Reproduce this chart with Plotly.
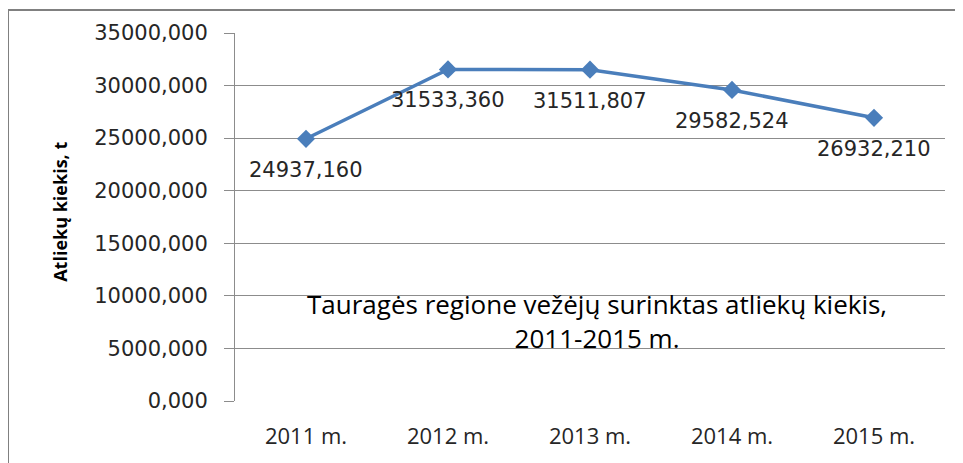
import plotly.graph_objects as go

years = ["2011 m.", "2012 m.", "2013 m.", "2014 m.", "2015 m."]
amounts = [24937.160, 31533.360, 31511.807, 29582.524, 26932.210]
amount_labels = ["24937,160", "31533,360", "31511,807", "29582,524", "26932,210"]
y_ticks = [0, 5000, 10000, 15000, 20000, 25000, 30000, 35000]
y_tick_labels = ["0,000", "5000,000", "10000,000", "15000,000", "20000,000",
                 "25000,000", "30000,000", "35000,000"]
chart_title = "Tauragės regione vežėjų surinktas atliekų kiekis,<br>2011-2015 m."
y_title = "Atliekų kiekis, t"

LINE = "#4A7EBB"
GRID = "#8C8C8C"
TXT = "#262626"

fig = go.Figure()
fig.add_trace(go.Scatter(
    x=years, y=amounts, mode="lines+markers",
    line=dict(color=LINE, width=3.5),
    marker=dict(symbol="diamond", size=14, color=LINE),
    hoverinfo="skip", showlegend=False, cliponaxis=False,
))

for xv, yv, lab in zip(years, amounts, amount_labels):
    fig.add_annotation(x=xv, y=yv, text=lab, showarrow=False, yshift=-31,
                       xanchor="center", yanchor="middle",
                       font=dict(family="DejaVu Sans", size=21, color=TXT))

fig.add_annotation(xref="paper", yref="paper", x=0.51, y=0.217, text=chart_title,
                   showarrow=False, align="center", xanchor="center", yanchor="middle",
                   font=dict(family="Open Sans", size=26, color="#000000"))

fig.add_annotation(xref="paper", yref="paper", x=-0.2465, y=0.514, text="<b>" + y_title + "</b>",
                   textangle=-90, showarrow=False, xanchor="center", yanchor="middle",
                   font=dict(family="Open Sans", size=18, color="#000000"))

fig.add_shape(type="rect", xref="paper", yref="paper", x0=-0.3197, x1=1.2, y0=-0.5, y1=1.0625,
              line=dict(color="#808080", width=2), layer="below")

fig.update_layout(
    width=955, height=455,
    margin=dict(l=227, r=18, t=25, b=62, autoexpand=False),
    paper_bgcolor="white", plot_bgcolor="white",
    xaxis=dict(type="category", range=[-0.5, len(years) - 0.5],
               showgrid=False, showline=False, ticks="",
               ticklabelstandoff=20, automargin=False,
               tickfont=dict(family="Open Sans", size=22, color=TXT), zeroline=False),
    yaxis=dict(range=[0, 35000], tickvals=y_ticks, ticktext=y_tick_labels,
               showgrid=True, gridcolor=GRID, gridwidth=1,
               showline=True, linecolor=GRID, linewidth=1,
               ticks="outside", ticklen=10, tickcolor=GRID, automargin=False,
               ticklabelstandoff=12, zeroline=False,
               tickfont=dict(family="DejaVu Sans", size=21, color=TXT)),
)

fig.write_html("out.html")
